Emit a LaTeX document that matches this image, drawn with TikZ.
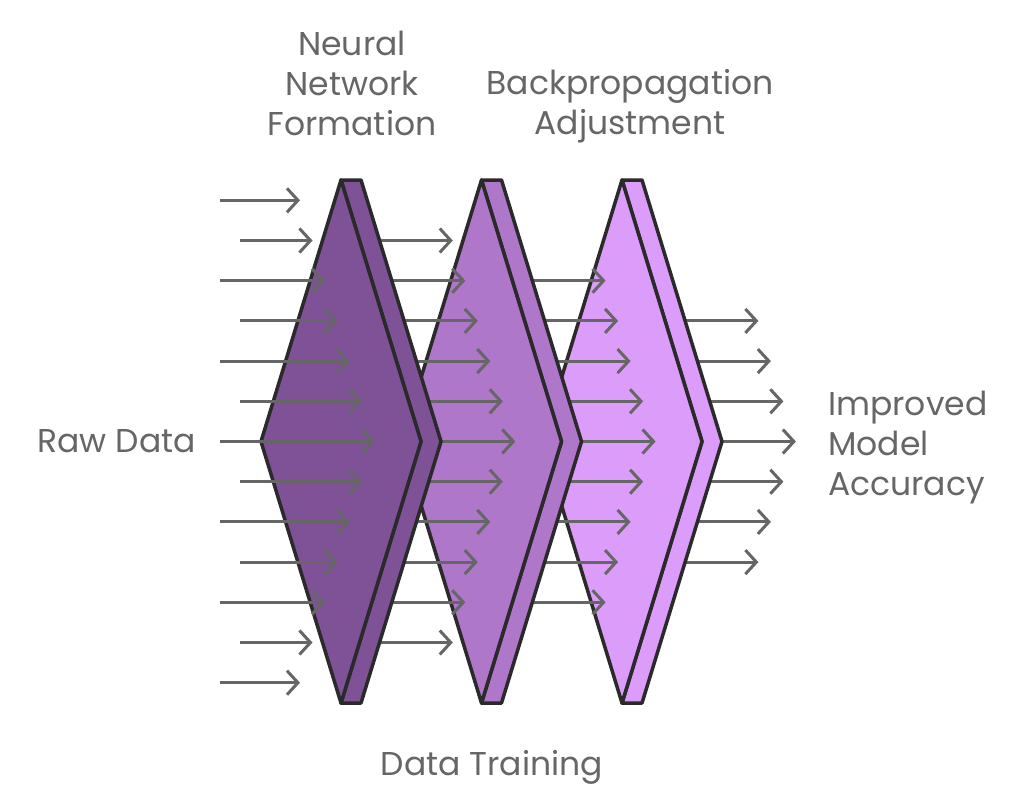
\documentclass[tikz,border=0pt]{standalone}
\usepackage{fontspec}
\setmainfont{Poppins}
\usetikzlibrary{arrows.meta}
\definecolor{pa}{HTML}{7F5298}
\definecolor{pb}{HTML}{AE77CA}
\definecolor{pc}{HTML}{DB9DF9}
\definecolor{edge}{HTML}{2A2A2A}
\definecolor{agray}{HTML}{666666}
\definecolor{tgray}{HTML}{666666}
\newcommand\arrcol[2]{%
  \foreach \d in {-#2,...,#2}{%
    \pgfmathsetmacro\yy{441.5+40.2*\d}%
    \pgfmathsetmacro\xt{375+140.3*(#1-1)-12.5*abs(\d)}%
    \pgfmathsetmacro\xs{220+140.3*(#1-1)+20*mod(abs(\d),2)}%
    \draw[flow] (\xs,\yy) -- (\xt,\yy);
  }}
\newcommand\prismshape[2]{%
  \begin{scope}[xshift=#1pt]
    \draw[prismedge, fill=#2] (341,180) -- (361,180) -- (441,441.5) -- (361,703) -- (341,703) -- (421,441.5) -- cycle;
    \draw[prismedge, fill=#2] (341,180) -- (421,441.5) -- (341,703) -- (261,441.5) -- cycle;
  \end{scope}}
\begin{document}
\begin{tikzpicture}[x=1pt,y=-1pt,
  flow/.style={draw=agray, line width=3pt, -{Straight Barb[length=11pt,width=24pt]}},
  prismedge/.style={draw=edge, line width=3.5pt, line join=round},
  lbl/.style={text=tgray, inner sep=0pt, font=\fontsize{33}{40}\selectfont}]
\useasboundingbox (0,0) rectangle (1024,803);
\fill[white] (0,0) rectangle (1024,803);
% output arrows (behind third prism)
\arrcol{4}{3}
\prismshape{281}{pc}
\arrcol{3}{4}
\prismshape{140.5}{pb}
\arrcol{2}{5}
\prismshape{0}{pa}
\arrcol{1}{6}
% labels
\node[lbl, align=center] (nn) at (352,83) {Neural\\Network\\Formation};
\node[lbl, align=center] (bp) at (630,106) {Backpropagation\\Adjustment};
\node[lbl, anchor=east] (raw) at (196,441.5) {Raw Data};
\node[lbl, align=left, anchor=west] (out) at (828,448) {Improved\\Model\\Accuracy};
\node[lbl] (dt) at (492,767) {Data Training};
\end{tikzpicture}
\end{document}
